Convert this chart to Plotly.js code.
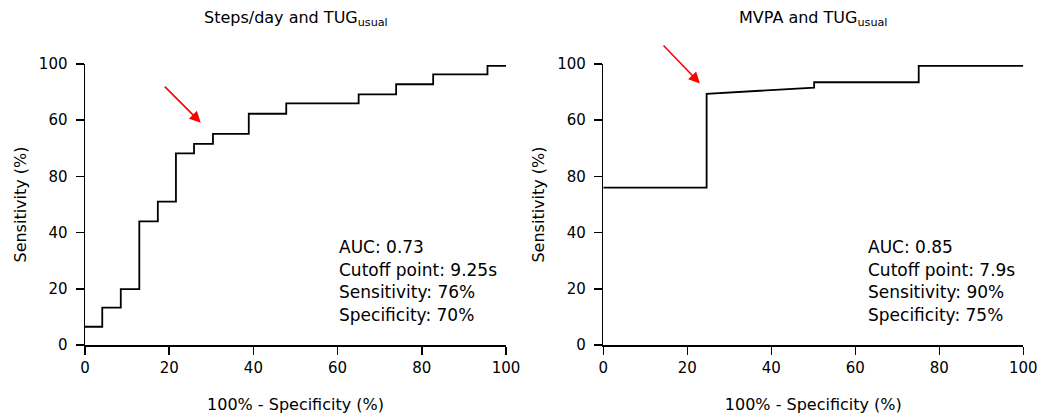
<!DOCTYPE html>
<html>
<head>
<meta charset="utf-8">
<script src="https://cdn.plot.ly/plotly-3.0.1.min.js"></script>
<style>html,body{margin:0;padding:0;background:#fff}#chart{width:1042px;height:418px}</style>
</head>
<body>
<div id="chart"></div>
<script>
// ROC vertices (plotted position on a 0-100 scale)
const leftFpr = [0,4.1,4.1,8.5,8.5,12.9,12.9,17.3,17.3,21.6,21.6,25.9,25.9,30.4,30.4,38.9,38.9,47.8,47.8,65,65,73.9,73.9,82.7,82.7,95.6,95.6,100];
const leftTpr = [6.5,6.5,13.3,13.3,19.9,19.9,44,44,51,51,68.2,68.2,71.6,71.6,75.1,75.1,82.3,82.3,86,86,89.2,89.2,92.8,92.8,96.3,96.3,99.3,99.3];
const rightFpr = [0,24.6,24.6,50.2,50.2,75.1,75.1,100];
const rightTpr = [56,56,89.4,91.6,93.5,93.5,99.3,99.3];

const tickVals = [0,20,40,60,80,100];
const xTickText = ['0','20','40','60','80','100'];
const yTickText = ['0','20','40','80','60','100'];

const leftTitle = 'Steps/day and TUG<sub>usual</sub>';
const rightTitle = 'MVPA and TUG<sub>usual</sub>';
const xTitle = '100% - Specificity (%)';
const yTitle = 'Sensitivity (%)';
const leftStats = ['AUC: 0.73','Cutoff point: 9.25s','Sensitivity: 76%','Specificity: 70%'];
const rightStats = ['AUC: 0.85','Cutoff point: 7.9s','Sensitivity: 90%','Specificity: 75%'];
// arrow: head [x,y], tail [x,y]
const leftArrow = {head:[27.5,79.1], tail:[18.6,92.5]};
const rightArrow = {head:[23.0,93.1], tail:[14.0,107.1]};

const FONT = 'DejaVu Sans';
const W = 1042, H = 418;

function axisX(domain, anchor){
  return {domain: domain, anchor: anchor, range:[0,100], tickvals: tickVals, ticktext: xTickText,
    showline:true, linecolor:'#000', linewidth:1.5, ticks:'outside', ticklen:8, tickwidth:1.5, tickcolor:'#000',
    showgrid:false, zeroline:false, tickfont:{family:FONT,size:15,color:'#000'}, fixedrange:true,
    title:{text:xTitle, font:{family:FONT,size:16,color:'#000'}, standoff:23}, automargin:false};
}
function axisY(anchor){
  return {domain:[1-345/H, 1-64/H], anchor: anchor, range:[0,100], tickvals: tickVals, ticktext: yTickText,
    showline:true, linecolor:'#000', linewidth:1.5, ticks:'outside', ticklen:8, tickwidth:1.5, tickcolor:'#000',
    showgrid:false, zeroline:false, tickfont:{family:FONT,size:15,color:'#000'}, fixedrange:true, ticklabelstandoff:5,
    title:{text:yTitle, font:{family:FONT,size:16,color:'#000'}, standoff:8}, automargin:false};
}

const traces = [
  {x:leftFpr, y:leftTpr, xaxis:'x', yaxis:'y', mode:'lines', line:{color:'#000', width:1.8}, hoverinfo:'skip', showlegend:false},
  {x:rightFpr, y:rightTpr, xaxis:'x2', yaxis:'y2', mode:'lines', line:{color:'#000', width:1.8}, hoverinfo:'skip', showlegend:false}
];

const statY = [35.0, 26.8, 18.7, 10.7];
const annotations = [];
leftStats.forEach((t,i)=>annotations.push({xref:'x', yref:'y', x:59.8, y:statY[i], text:t, showarrow:false,
  xanchor:'left', yanchor:'middle', font:{family:FONT,size:17,color:'#000'}}));
rightStats.forEach((t,i)=>annotations.push({xref:'x2', yref:'y2', x:62.5, y:statY[i], text:t, showarrow:false,
  xanchor:'left', yanchor:'middle', font:{family:FONT,size:17,color:'#000'}}));
[[leftArrow,'x','y'],[rightArrow,'x2','y2']].forEach(([a,xr,yr])=>annotations.push({
  xref:xr, yref:yr, axref:xr, ayref:yr, x:a.head[0], y:a.head[1], ax:a.tail[0], ay:a.tail[1],
  text:'', showarrow:true, arrowhead:2, arrowsize:1.4, arrowwidth:1.6, arrowcolor:'#ff0000', standoff:0, startstandoff:0}));
annotations.push({xref:'paper', yref:'paper', x:(85+506)/2/W, y:1-18/H, text:leftTitle, showarrow:false,
  xanchor:'center', yanchor:'middle', font:{family:FONT,size:16,color:'#000'}});
annotations.push({xref:'paper', yref:'paper', x:(603.3+1023.3)/2/W, y:1-18/H, text:rightTitle, showarrow:false,
  xanchor:'center', yanchor:'middle', font:{family:FONT,size:16,color:'#000'}});

const layout = {
  width:W, height:H, margin:{l:0,r:0,t:0,b:0}, paper_bgcolor:'#fff', plot_bgcolor:'#fff',
  xaxis: axisX([85/W, 506/W], 'y'),
  yaxis: axisY('x'),
  xaxis2: axisX([603.3/W, 1023.3/W], 'y2'),
  yaxis2: axisY('x2'),
  annotations: annotations,
  showlegend:false
};
Plotly.newPlot('chart', traces, layout, {displayModeBar:false, staticPlot:true});
</script>
</body>
</html>
